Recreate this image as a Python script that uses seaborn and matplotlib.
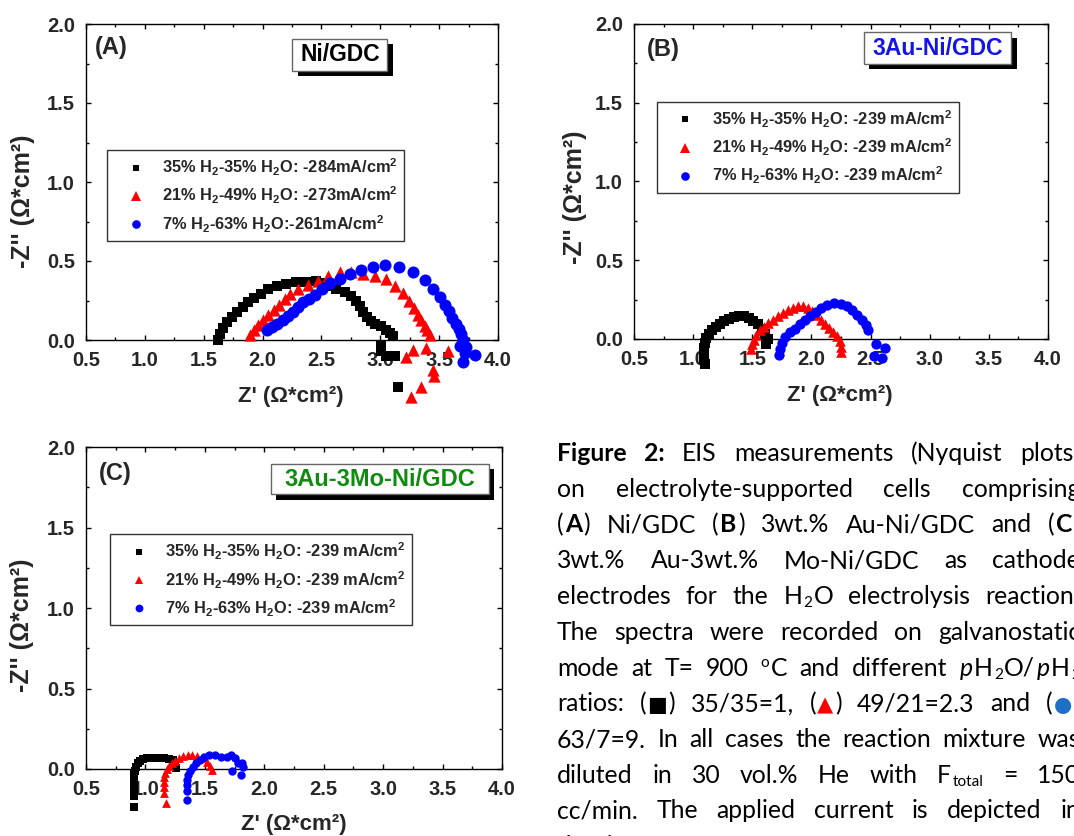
import numpy as np
import pandas as pd
import seaborn as sns
import matplotlib.pyplot as plt
import matplotlib.patheffects as pe
from matplotlib.lines import Line2D
from matplotlib.patches import Rectangle
from matplotlib.ticker import MultipleLocator, FormatStrFormatter
from matplotlib.transforms import IdentityTransform

# ---------------- data (Z' , -Z'') ----------------
# panel A: Ni/GDC
a_sq_x = [1.623, 1.638, 1.660, 1.694, 1.737, 1.785, 1.830, 1.878, 1.926, 1.983, 2.048, 2.119,
          2.198, 2.288, 2.373, 2.458, 2.520, 2.557, 2.628, 2.699, 2.755, 2.792, 2.826, 2.854,
          2.883, 2.917, 2.959, 3.004, 3.047, 3.086, 3.109, 3.004, 3.004, 3.052, 3.123, 3.151]
a_sq_y = [0.002, 0.038, 0.076, 0.112, 0.143, 0.175, 0.207, 0.238, 0.266, 0.293, 0.323, 0.344,
          0.357, 0.365, 0.369, 0.371, 0.362, 0.344, 0.323, 0.302, 0.276, 0.245, 0.213, 0.175,
          0.143, 0.118, 0.101, 0.086, 0.065, 0.044, 0.027, -0.040, -0.072, -0.099, -0.103, -0.300]
a_tri_x = [1.892, 1.926, 1.963, 2.005, 2.048, 2.096, 2.141, 2.189, 2.237, 2.302, 2.387, 2.472,
           2.557, 2.656, 2.755, 2.854, 2.953, 3.047, 3.123, 3.194, 3.245, 3.287, 3.321, 3.349,
           3.378, 3.400, 3.420, 3.392, 3.279, 3.222, 3.576, 3.449, 3.457, 3.349, 3.265]
a_tri_y = [0.034, 0.065, 0.097, 0.129, 0.156, 0.188, 0.224, 0.259, 0.293, 0.325, 0.350, 0.376,
           0.403, 0.428, 0.428, 0.420, 0.407, 0.386, 0.344, 0.297, 0.245, 0.203, 0.160, 0.124,
           0.091, 0.061, 0.034, -0.051, -0.061, -0.108, -0.072, -0.192, -0.230, -0.297, -0.361]
a_dot_x = [2.034, 2.076, 2.119, 2.170, 2.218, 2.260, 2.302, 2.345, 2.396, 2.444, 2.501, 2.571,
           2.656, 2.741, 2.832, 2.939, 3.038, 3.160, 3.279, 3.378, 3.449, 3.505, 3.548, 3.584,
           3.613, 3.641, 3.669, 3.689, 3.703, 3.675, 3.732, 3.717, 3.802, 3.703]
a_dot_y = [0.065, 0.082, 0.103, 0.124, 0.150, 0.177, 0.209, 0.238, 0.262, 0.287, 0.323, 0.361,
           0.386, 0.420, 0.445, 0.462, 0.473, 0.460, 0.428, 0.378, 0.323, 0.272, 0.224, 0.181,
           0.139, 0.103, 0.070, 0.040, 0.002, -0.040, -0.044, -0.082, -0.093, -0.141]

# panel B: 3Au-Ni/GDC
b_sq_x = [1.103, 1.095, 1.092, 1.095, 1.103, 1.111, 1.131, 1.159, 1.190, 1.224, 1.261, 1.300,
          1.342, 1.385, 1.427, 1.469, 1.509, 1.548, 1.579, 1.607, 1.633, 1.619]
b_sq_y = [-0.161, -0.125, -0.089, -0.055, -0.025, 0.006, 0.034, 0.055, 0.076, 0.095, 0.115, 0.129,
          0.142, 0.148, 0.144, 0.134, 0.115, 0.093, 0.066, 0.034, 0.002, -0.030]
b_tri_x = [1.492, 1.500, 1.514, 1.534, 1.562, 1.596, 1.636, 1.675, 1.717, 1.760, 1.802, 1.844,
           1.886, 1.929, 1.971, 2.007, 2.041, 2.078, 2.115, 2.148, 2.182, 2.216, 2.239, 2.253, 2.253]
b_tri_y = [-0.066, -0.034, -0.004, 0.028, 0.055, 0.078, 0.102, 0.123, 0.144, 0.165, 0.185, 0.199,
           0.210, 0.212, 0.199, 0.176, 0.151, 0.123, 0.098, 0.072, 0.045, 0.017, -0.013, -0.051, -0.083]
b_dot_x = [1.723, 1.737, 1.754, 1.779, 1.816, 1.858, 1.900, 1.945, 1.991, 2.036, 2.084, 2.131,
           2.188, 2.247, 2.300, 2.346, 2.385, 2.424, 2.458, 2.478, 2.550, 2.620, 2.530, 2.600]
b_dot_y = [-0.104, -0.062, -0.023, 0.013, 0.045, 0.066, 0.093, 0.119, 0.144, 0.172, 0.195, 0.216,
           0.229, 0.225, 0.208, 0.182, 0.151, 0.119, 0.087, 0.059, -0.030, -0.060, -0.110, -0.120]

# panel C: 3Au-3Mo-Ni/GDC
c_sq_x = [0.900, 0.900, 0.900, 0.900, 0.900, 0.900, 0.900, 0.902, 0.905, 0.910, 0.920, 0.935,
          0.955, 0.980, 1.010, 1.040, 1.080, 1.120, 1.160, 1.200, 1.230, 1.250, 1.258]
c_sq_y = [-0.234, -0.170, -0.150, -0.130, -0.110, -0.090, -0.070, -0.050, -0.030, -0.010, 0.012,
          0.035, 0.052, 0.062, 0.067, 0.068, 0.068, 0.068, 0.067, 0.064, 0.055, 0.032, 0.006]
c_tri_x = [1.171, 1.160, 1.154, 1.154, 1.157, 1.165, 1.179, 1.199, 1.221, 1.249, 1.283, 1.320,
           1.356, 1.395, 1.437, 1.480, 1.516, 1.544, 1.558]
c_tri_y = [-0.209, -0.151, -0.110, -0.079, -0.052, -0.027, -0.002, 0.019, 0.035, 0.052, 0.066,
           0.081, 0.089, 0.089, 0.081, 0.066, 0.046, 0.019, -0.006]
c_dot_x = [1.353, 1.348, 1.348, 1.353, 1.362, 1.376, 1.398, 1.426, 1.460, 1.496, 1.538, 1.586,
           1.634, 1.684, 1.718, 1.755, 1.783, 1.811, 1.819, 1.727, 1.806]
c_dot_y = [-0.192, -0.134, -0.099, -0.068, -0.037, -0.010, 0.014, 0.035, 0.056, 0.072, 0.085,
           0.087, 0.077, 0.077, 0.087, 0.066, 0.039, 0.035, 0.014, -0.010, -0.037]

legend_a = ["35% H$_2$-35% H$_2$O: -284mA/cm$^2$",
            "21% H$_2$-49% H$_2$O: -273mA/cm$^2$",
            "7% H$_2$-63% H$_2$O:-261mA/cm$^2$"]
legend_bc = ["35% H$_2$-35% H$_2$O: -239 mA/cm$^2$",
             "21% H$_2$-49% H$_2$O: -239 mA/cm$^2$",
             "7% H$_2$-63% H$_2$O: -239 mA/cm$^2$"]
titles = ["Ni/GDC", "3Au-Ni/GDC", "3Au-3Mo-Ni/GDC"]
panel_tags = ["(A)", "(B)", "(C)"]

# ---------------- style ----------------
sns.set_style("ticks")
plt.rcParams.update({
    "font.family": ["Liberation Sans", "DejaVu Sans"],
    "font.weight": "bold",
    "mathtext.fontset": "custom",
    "mathtext.rm": "Liberation Sans:bold",
    "mathtext.bf": "Liberation Sans:bold",
    "mathtext.it": "Liberation Sans:bold",
    "mathtext.sf": "Liberation Sans:bold",
    "mathtext.default": "bf",
    "axes.edgecolor": "black",
    "axes.linewidth": 1.0,
})

fig = plt.figure(figsize=(10.74, 8.36), dpi=100)
W, H = 1074, 836


def px_axes(l, t, r, b):
    return fig.add_axes([l / W, 1 - b / H, (r - l) / W, (b - t) / H])


ax_a = px_axes(86, 24, 498, 340)
ax_b = px_axes(634, 24, 1048, 339)
ax_c = px_axes(86, 447, 502, 769)

markers = ["s", "^", "o"]
colors = ["black", "#FF0000", "#0000FF"]

panels = [
    dict(ax=ax_a, data=[(a_sq_x, a_sq_y), (a_tri_x, a_tri_y), (a_dot_x, a_dot_y)],
         sizes=[55, 78, 75], labels=legend_a, leg_ms=[4.8, 6.6, 6.2],
         leg_anchor=(0.051, 0.601), title_box=(0.501, 0.8513, 0.7316, 0.9536),
         title_color="black", title_fs=16.5, tag_pos=(0.022, 0.927),
         ylab=(-0.152, 0.439), xlab=(0.497, -0.178)),
    dict(ax=ax_b, data=[(b_sq_x, b_sq_y), (b_tri_x, b_tri_y), (b_dot_x, b_dot_y)],
         sizes=[50, 58, 55], labels=legend_bc, leg_ms=[4.8, 6.6, 6.2],
         leg_anchor=(0.055, 0.753), title_box=(0.5556, 0.8727, 0.9114, 0.9735),
         title_color="#1414E6", title_fs=16.5, tag_pos=(0.030, 0.918),
         ylab=(-0.143, 0.450), xlab=(0.497, -0.179)),
    dict(ax=ax_c, data=[(c_sq_x, c_sq_y), (c_tri_x, c_tri_y), (c_dot_x, c_dot_y)],
         sizes=[30, 40, 36], labels=legend_bc, leg_ms=[4.4, 6.0, 5.6],
         leg_anchor=(0.058, 0.729), title_box=(0.445, 0.853, 0.968, 0.948),
         title_color="#0F8C0F", title_fs=17, tag_pos=(0.032, 0.919),
         ylab=(-0.155, 0.447), xlab=(0.499, -0.171)),
]

for i, p in enumerate(panels):
    ax = p["ax"]
    for (x, y), m, c, s in zip(p["data"], markers, colors, p["sizes"]):
        sns.scatterplot(x=x, y=y, marker=m, color=c, s=s, linewidth=0,
                        clip_on=False, zorder=3, legend=False, ax=ax)

    ax.set_xlim(0.5, 4.0)
    ax.set_ylim(0.0, 2.0)
    ax.xaxis.set_major_locator(MultipleLocator(0.5))
    ax.xaxis.set_minor_locator(MultipleLocator(0.25))
    ax.yaxis.set_major_locator(MultipleLocator(0.5))
    ax.yaxis.set_minor_locator(MultipleLocator(0.25))
    ax.xaxis.set_major_formatter(FormatStrFormatter("%.1f"))
    ax.yaxis.set_major_formatter(FormatStrFormatter("%.1f"))
    ax.tick_params(which="both", direction="in", top=True, right=True, width=1, color="black")
    ax.tick_params(which="major", length=3.5, pad=8, labelsize=14.5)
    ax.tick_params(which="minor", length=2.2)
    for lab in ax.get_xticklabels() + ax.get_yticklabels():
        lab.set_fontweight("bold")
    for sp in ax.spines.values():
        sp.set_visible(True)
        sp.set_color("black")

    ax.set_xlabel("Z' (\u03a9*cm\u00b2)", fontsize=16, fontweight="bold", va="center")
    ax.set_ylabel("-Z'' (\u03a9*cm\u00b2)", fontsize=18, fontweight="bold", va="center")
    ax.xaxis.set_label_coords(*p["xlab"])
    ax.yaxis.set_label_coords(*p["ylab"])

    # panel tag
    ax.text(*p["tag_pos"], panel_tags[i], transform=ax.transAxes, ha="left", va="center",
            fontsize=17, fontweight="bold")

    # title box with drop shadow
    x0, y0, x1, y1 = p["title_box"]
    rect = Rectangle((x0, y0), x1 - x0, y1 - y0, transform=ax.transAxes, facecolor="white",
                     edgecolor="#666666", linewidth=1.0, zorder=4, clip_on=False)
    rect.set_path_effects([pe.SimplePatchShadow(offset=(3.8, -3.8), shadow_rgbFace="black", alpha=1.0),
                           pe.Normal()])
    ax.add_patch(rect)
    ax.text((x0 + x1) / 2, (y0 + y1) / 2, titles[i], transform=ax.transAxes, ha="center",
            va="center", fontsize=p["title_fs"], fontweight="bold", color=p["title_color"], zorder=5)

    # legend
    handles = [Line2D([], [], marker=m, color=c, linestyle="none", markersize=ms, markeredgewidth=0)
               for m, c, ms in zip(markers, colors, p["leg_ms"])]
    leg = ax.legend(handles, p["labels"], loc="upper left", bbox_to_anchor=p["leg_anchor"],
                    borderaxespad=0, frameon=True, fancybox=False, edgecolor="#333333",
                    framealpha=1, prop={"weight": "bold", "size": 11.8}, handlelength=2.7,
                    handletextpad=0.25, borderpad=0.4, labelspacing=0.42)
    leg.get_frame().set_linewidth(1.0)

# ---------------- caption (justified, cut at the right edge) ----------------
cap_pt = 17.8
cap_px = cap_pt * 100 / 72
cap_left, cap_right = 557, 1080
cap_base0, cap_step = 461, 35.75
mark_colors = {"sq": "black", "tri": "#FF0000", "dot": "#1F6FC5"}


def r(s, k="n"):
    return (s, k)


caption = [
    [[r("Figure", "b")], [r("2:", "b")], "EIS", "measurements", "(Nyquist", "plots)"],
    ["on", "electrolyte-supported", "cells", "comprising"],
    [[r("("), r("A", "b"), r(")")], "Ni/GDC", [r("("), r("B", "b"), r(")")], "3wt.%",
     "Au-Ni/GDC", "and", [r("("), r("C", "b"), r(")")]],
    ["3wt.%", "Au-3wt.%", "Mo-Ni/GDC", "as", "cathode"],
    ["electrodes", "for", "the", [r("H"), r("2", "sub"), r("O")], "electrolysis", "reaction."],
    ["The", "spectra", "were", "recorded", "on", "galvanostatic"],
    ["mode", "at", "T=", "900", [r("o", "sup"), r("C")], "and", "different",
     [r("p", "i"), r("H"), r("2", "sub"), r("O/"), r("p", "i"), r("H"), r("2", "sub")]],
    ["ratios:", [r("("), r("\u25a0", "sq"), r(")")], "35/35=1,", [r("("), r("\u25b2", "tri"), r(")")],
     "49/21=2.3", "and", [r("("), r("\u25cf", "dot"), r(")")]],
    ["63/7=9.", "In", "all", "cases", "the", "reaction", "mixture", "was"],
    ["diluted", "in", "30", "vol.%", "He", "with", [r("F"), r("total", "sub")], "=", "150"],
    ["cc/min.", "The", "applied", "current", "is", "depicted", "in"],
    ["the", "figure."],
]

renderer = fig.canvas.get_renderer()


def make_run(s, kind):
    kw = dict(fontfamily="Lato", fontsize=cap_pt, fontweight="normal", color="black",
              ha="left", va="baseline", transform=IdentityTransform())
    dy = 0.0
    if kind == "b":
        kw["fontweight"] = "bold"
    elif kind == "i":
        kw["fontstyle"] = "italic"
    elif kind == "sub":
        kw["fontsize"] = cap_pt * 0.62
        dy = -0.13 * cap_px
    elif kind == "sup":
        kw["fontsize"] = cap_pt * 0.62
        dy = 0.36 * cap_px
    elif kind in mark_colors:
        kw["fontfamily"] = "DejaVu Sans"
        kw["fontsize"] = cap_pt * 0.85
        kw["color"] = mark_colors[kind]
    t = fig.text(0, 0, s, **kw)
    w = t.get_window_extent(renderer).width
    return t, dy, w


space_px = 0.23 * cap_px
for li, line in enumerate(caption):
    words = []
    for wd in line:
        runs = [r(wd)] if isinstance(wd, str) else wd
        built = [make_run(s, k) for s, k in runs]
        gap = 0.05 * cap_px
        width = sum(b[2] for b in built) + gap * (len(built) - 1)
        words.append((built, width, gap))
    total = sum(w[1] for w in words)
    last = li == len(caption) - 1
    if last or len(words) < 2:
        spacing = space_px
    else:
        spacing = max((cap_right - cap_left - total) / (len(words) - 1), 0.7 * space_px)
    y = H - (cap_base0 + cap_step * li)
    x = cap_left
    for built, width, gap in words:
        xx = x
        for t, dy, w in built:
            t.set_position((xx, y + dy))
            xx += w + gap
        x += width + spacing

fig.savefig("out.png", dpi=100)
